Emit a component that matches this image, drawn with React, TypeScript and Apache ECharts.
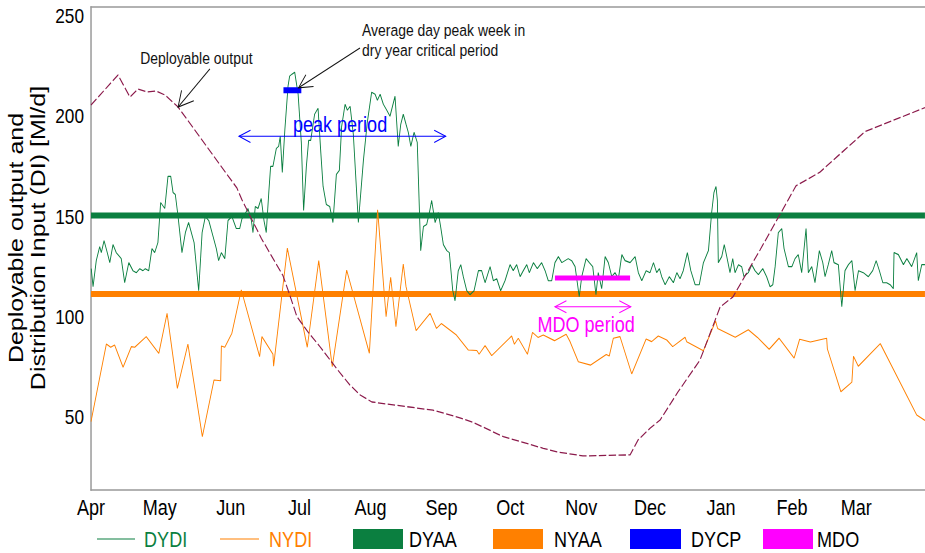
import React, { useEffect, useRef } from 'react';
import * as echarts from 'echarts';

const FONT = '"Liberation Sans", Arial, sans-serif';
// the reference picture is horizontally compressed; reproduce that look
const S = 0.82;
const W = 925 / S;
const H = 553;

const GREEN = '#0B7F40';
const ORANGE = '#FF8000';
const MAROON = '#8B1A4B';
const BLUE = '#0000FF';
const MAGENTA = '#FF00FF';

// x axis: day of the water year (0 = 1 Apr)
const monthNames = ['Apr', 'May', 'Jun', 'Jul', 'Aug', 'Sep', 'Oct', 'Nov', 'Dec', 'Jan', 'Feb', 'Mar'];
const monthStartDays = [0, 30, 61, 91, 122, 153, 183, 214, 244, 275, 306, 334];
const yTickValues = [50, 100, 150, 200, 250];

// DYDI - dry year distribution input (daily)
const dydiDays = [
  0.1, 0.9, 2.3, 3.8, 4.5, 5.7, 7.1, 8.2, 9.6, 11.0, 12.5, 13.2, 14.7, 16.5, 18.3, 19.8, 21.3, 22.7, 23.7, 25.2,
  26.6, 27.8, 29.2, 30.4, 32.2, 33.6, 34.8, 35.8, 36.8, 38.0, 39.7, 41.2, 42.6, 45.0, 47.0, 48.5, 49.9, 51.4, 53.3, 54.7,
  55.7, 56.9, 58.4, 59.8, 61.5, 63.4, 64.9, 65.9, 67.1, 68.5, 70.0, 70.7, 71.7, 72.9, 74.3, 75.5, 76.5, 77.6, 78.4, 79.4,
  80.9, 81.9, 82.6, 83.5, 84.6, 86.0, 86.7, 87.7, 88.9, 90.4, 91.8, 92.8, 94.0, 95.0, 95.9, 97.6, 99.1, 100.3, 101.3, 102.7,
  104.2, 105.6, 107.1, 108.4, 109.4, 110.9, 111.9, 113.1, 114.5, 116.7, 118.9, 120.6, 122.5, 124.0, 125.0, 126.2, 127.6, 129.1, 130.5, 132.7,
  134.1, 135.2, 136.3, 137.5, 138.5, 139.6, 141.0, 142.4, 143.9, 145.1, 146.5, 147.7, 148.7, 150.2, 151.6, 152.6, 153.8, 155.3, 156.4, 157.9,
  158.9, 160.3, 161.4, 162.5, 164.0, 165.4, 167.2, 169.1, 170.5, 172.0, 174.2, 175.6, 177.1, 178.8, 180.7, 182.9, 184.3, 185.8, 187.3, 188.7,
  190.2, 191.3, 193.1, 194.8, 196.7, 198.2, 199.6, 201.1, 202.5, 204.0, 205.5, 206.9, 208.3, 209.8, 211.3, 213.1, 214.2, 216.1, 217.5, 219.0,
  220.4, 221.4, 222.9, 224.4, 225.8, 227.3, 228.7, 230.2, 231.7, 233.1, 235.3, 237.5, 238.9, 240.4, 242.3, 244.0, 245.5, 246.9, 248.1, 249.1,
  250.6, 252.4, 254.2, 255.7, 257.1, 258.5, 260.3, 261.8, 263.7, 265.5, 267.3, 269.5, 270.9, 271.9, 272.8, 273.4, 273.8, 275.3, 276.4, 277.5,
  278.9, 280.1, 281.1, 282.6, 284.0, 285.0, 286.9, 288.4, 289.8, 291.3, 293.2, 294.9, 296.4, 297.6, 298.6, 300.0, 301.5, 302.5, 304.4, 305.9,
  307.3, 308.7, 310.2, 312.1, 313.1, 314.6, 316.0, 317.9, 319.4, 320.4, 321.8, 323.3, 324.3, 326.2, 327.7, 329.1, 330.6, 332.1, 333.5, 335.0,
  337.1, 339.3, 341.2, 342.7, 344.1, 345.6, 347.3, 348.8, 350.2, 350.5, 352.4, 354.6, 356.1, 358.2, 360.4, 361.1, 362.6, 364.0,
];
const dydiValues = [
  124, 115, 128, 135, 132, 138, 132, 127, 136, 132, 130, 129, 117, 127, 123, 122, 124, 123, 124, 123,
  134, 132, 137, 157, 154, 170, 170, 162, 161, 150, 132, 142, 147, 137, 113, 142, 150, 148, 140, 134,
  128, 132, 129, 148, 150, 144, 144, 149, 151, 154, 148, 142, 155, 154, 159, 148, 142, 162, 175, 175,
  184, 185, 190, 172, 193, 215, 220, 221, 222, 211, 187, 153, 175, 188, 188, 201, 204, 182, 165, 156,
  155, 147, 171, 173, 195, 206, 203, 205, 191, 147, 178, 197, 212, 211, 208, 211, 206, 203, 200, 210,
  185, 196, 201, 196, 192, 185, 192, 187, 133, 145, 146, 152, 158, 147, 152, 145, 136, 133, 132, 113,
  108, 123, 126, 120, 113, 111, 113, 123, 123, 117, 125, 118, 119, 113, 118, 126, 123, 126, 120, 123,
  126, 122, 127, 124, 127, 123, 118, 118, 127, 130, 127, 128, 129, 128, 125, 110, 120, 129, 127, 125,
  111, 122, 114, 130, 127, 120, 122, 119, 131, 128, 127, 130, 122, 118, 123, 122, 127, 122, 124, 120,
  116, 120, 117, 122, 119, 123, 132, 123, 116, 116, 127, 133, 152, 162, 165, 158, 127, 130, 136, 130,
  122, 129, 122, 126, 125, 120, 122, 126, 123, 121, 124, 120, 115, 116, 125, 142, 144, 134, 125, 125,
  129, 131, 122, 144, 122, 125, 117, 133, 127, 120, 126, 133, 127, 126, 105, 123, 126, 128, 113, 123,
  122, 120, 123, 128, 123, 117, 117, 116, 114, 132, 131, 126, 129, 125, 132, 118, 126, 126,
];

// NYDI - normal year distribution input (weekly)
const nydiDays = [
  0, 6.7, 8.6, 10.3, 14.0, 17.6, 19.1, 24.1, 29.6, 33.2, 37.7, 42.3, 48.6, 53.7, 56.6, 56.9, 58.4, 61.5, 65.6, 73.6,
  74.6, 79.4, 79.7, 85.7, 94.4, 99.4, 105.3, 111.6, 121.5, 125.1, 128.8, 130.8, 133.1, 136.3, 137.5, 141.9, 148.0, 150.8, 152.9, 159.5,
  164.7, 168.4, 169.4, 172.0, 174.9, 183.6, 184.8, 186.5, 190.5, 192.7, 195.1, 197.4, 202.3, 207.4, 209.1, 212.7, 218.1, 224.9, 226.2, 228.0,
  230.9, 236.0, 242.3, 244.7, 247.6, 251.3, 253.9, 259.3, 260.0, 267.3, 272.6, 273.5, 281.2, 286.9, 290.9, 296.0, 300.3, 306.9, 309.3, 314.0,
  321.1, 321.4, 327.3, 332.1, 332.8, 334.9, 344.5, 360.4, 364.0,
];
const nydiValues = [
  47.7, 86.4, 84.8, 85.9, 74.8, 85.1, 84.8, 90.1, 81.8, 101.7, 64.3, 86.4, 40.2, 68.5, 68.1, 85.4, 84.8, 91.8, 113.4, 80.1,
  90.1, 81.4, 75.4, 134.2, 84.8, 128.0, 75.1, 123.3, 81.8, 153.3, 100.0, 119.7, 95.0, 126.3, 115.0, 93.1, 101.7, 94.2, 96.6, 90.9,
  83.4, 83.2, 81.3, 85.6, 80.6, 90.4, 86.3, 89.3, 81.3, 92.2, 89.7, 90.9, 88.1, 91.3, 87.6, 77.6, 75.9, 81.2, 80.4, 89.3,
  90.1, 71.5, 88.9, 87.6, 90.4, 88.4, 85.1, 89.8, 87.6, 83.1, 97.9, 94.2, 89.8, 93.5, 89.7, 83.8, 89.3, 79.4, 88.8, 87.4,
  89.3, 84.0, 62.6, 67.4, 80.3, 75.3, 86.6, 51.0, 48.3,
];

// Deployable output
const deployDays = [
  0, 11.8, 17, 20.5, 24.4, 28.4, 32.3, 38, 63.7, 65.9, 74.4, 83.8, 86, 89.9, 95, 100, 104, 108, 113, 117.5,
  122.6, 149.3, 161, 166.8, 180, 197.4, 203.4, 214.7, 235.3, 238.8, 244, 248.4, 256.2, 265.8, 274.6, 280.2, 292, 304.3, 307.7, 318,
  337.8, 364,
];
const deployValues = [
  205.6, 220.6, 209.6, 213.6, 212.1, 212.6, 210.6, 204.6, 164.2, 158.3, 139, 120.5, 113.4, 100, 92, 85, 79, 73, 66, 61,
  57.5, 53.4, 49.6, 47.3, 40.2, 34.4, 32.6, 30.6, 31.1, 38.6, 44.4, 48.5, 62.5, 78.4, 104.9, 109.9, 133.3, 158.3, 165.3, 172,
  192.3, 204.3,
];

// Averages and periods
const dyaaValue = 150.5;
const nyaaValue = 111.4;
const dycpDays = [84, 91.8];
const dycpValue = 213;
const mdoDays = [202.5, 235.3];
const mdoValue = 119.3;
const peakPeriodDays = [64.6, 154.8];
const peakPeriodLevel = 190;
const mdoPeriodDays = [202.5, 235.6];
const mdoPeriodLevel = 105;

// annotation anchors in data coordinates [day, value]
const deployLabelAt = [46.0, 228.9];
const deployArrowFrom = [51.9, 223.6];
const deployArrowTo = [38, 204.6];
const peakWeekLabelAt = [118.3, 238.0];
const peakWeekArrowFrom = [117.4, 234.0];
const peakWeekArrowTo = [90.6, 214.2];
const peakLabelAt = [108.7, 196.2];
const mdoLabelAt = [216.1, 96.4];

const pairs = (xs: number[], ys: number[]) => xs.map((x, i) => [x, ys[i]]);

function arrowHead(tip: number[], from: number[], len: number, angDeg: number) {
  // computed in on-screen (compressed) space, then mapped back
  const t = [tip[0] * S, tip[1]];
  const f = [from[0] * S, from[1]];
  const dx = f[0] - t[0];
  const dy = f[1] - t[1];
  const L = Math.hypot(dx, dy) || 1;
  const ux = dx / L;
  const uy = dy / L;
  const a = (angDeg * Math.PI) / 180;
  const rot = (c: number, s: number) => [(t[0] + len * (ux * c - uy * s)) / S, t[1] + len * (ux * s + uy * c)];
  return [rot(Math.cos(a), Math.sin(a)), tip, rot(Math.cos(-a), Math.sin(-a))];
}

export default function App() {
  const ref = useRef<HTMLDivElement>(null);

  useEffect(() => {
    const el = ref.current;
    if (!el) return;
    document.body.style.overflow = 'hidden';
    const chart = echarts.init(el, undefined, { renderer: 'svg' });

    const legendBase = {
      orient: 'horizontal',
      top: 528,
      padding: 0,
      selectedMode: false,
      itemStyle: { borderWidth: 0 },
      textStyle: { fontSize: 22, fontFamily: FONT, color: '#000' },
    };

    const option: any = {
      animation: false,
      backgroundColor: '#fff',
      grid: { left: 91 / S, right: 0, top: 7, bottom: 63, containLabel: false, outerBoundsMode: 'none' },
      xAxis: [
        {
          type: 'value',
          min: 0,
          max: 364,
          axisLine: { show: true, onZero: false, lineStyle: { color: '#999', width: 1.5 } },
          axisTick: { show: false },
          splitLine: { show: false },
          axisLabel: {
            customValues: monthStartDays,
            formatter: (v: number) => {
              const i = monthStartDays.indexOf(Math.round(v));
              return i >= 0 ? monthNames[i] : '';
            },
            fontSize: 22,
            fontFamily: FONT,
            color: '#000',
            margin: 6,
          },
        },
        {
          type: 'value',
          position: 'top',
          min: 0,
          max: 364,
          axisLine: { show: true, onZero: false, lineStyle: { color: '#999', width: 1.5 } },
          axisTick: { show: false },
          splitLine: { show: false },
          axisLabel: { show: false },
        },
      ],
      yAxis: {
        type: 'value',
        min: 13.6,
        max: 254.5,
        axisLine: { show: true, onZero: false, lineStyle: { color: '#999', width: 1.8 } },
        axisTick: { show: false },
        splitLine: { show: false },
        axisLabel: {
          customValues: yTickValues,
          fontSize: 21,
          fontFamily: FONT,
          color: '#000',
          margin: 7 / S,
        },
      },
      legend: [
        { ...legendBase, left: 97 / S, itemWidth: 38 / S, itemHeight: 1.2, data: [{ name: 'DYDI', icon: 'rect', textStyle: { color: GREEN, padding: [0, 0, 0, 5 / S] } }] },
        { ...legendBase, left: 220 / S, itemWidth: 39 / S, itemHeight: 1.2, data: [{ name: 'NYDI', icon: 'rect', textStyle: { color: ORANGE, padding: [0, 0, 0, 6 / S] } }] },
        { ...legendBase, left: 353 / S, itemWidth: 50 / S, itemHeight: 20, data: [{ name: 'DYAA', icon: 'rect', textStyle: { padding: [0, 0, 0, 2 / S] } }] },
        { ...legendBase, left: 493 / S, itemWidth: 50 / S, itemHeight: 20, data: [{ name: 'NYAA', icon: 'rect', textStyle: { padding: [0, 0, 0, 7 / S] } }] },
        { ...legendBase, left: 630 / S, itemWidth: 51 / S, itemHeight: 20, data: [{ name: 'DYCP', icon: 'rect', textStyle: { padding: [0, 0, 0, 6 / S] } }] },
        { ...legendBase, left: 763 / S, itemWidth: 50 / S, itemHeight: 20, data: [{ name: 'MDO', icon: 'rect' }] },
      ],
      series: [
        {
          name: 'DYAA', type: 'line', symbol: 'none', z: 2,
          data: [[0, dyaaValue], [364, dyaaValue]],
          lineStyle: { color: GREEN, width: 6 }, itemStyle: { color: GREEN },
        },
        {
          name: 'NYAA', type: 'line', symbol: 'none', z: 2,
          data: [[0, nyaaValue], [364, nyaaValue]],
          lineStyle: { color: ORANGE, width: 6 }, itemStyle: { color: ORANGE },
        },
        {
          name: 'DYDI', type: 'line', symbol: 'none', z: 3,
          data: pairs(dydiDays, dydiValues),
          lineStyle: { color: GREEN, width: 1.1 }, itemStyle: { color: GREEN },
        },
        {
          name: 'NYDI', type: 'line', symbol: 'none', z: 3,
          data: pairs(nydiDays, nydiValues),
          lineStyle: { color: ORANGE, width: 1.1 }, itemStyle: { color: ORANGE },
        },
        {
          name: 'Deployable output', type: 'line', symbol: 'none', z: 3,
          data: pairs(deployDays, deployValues),
          lineStyle: { color: MAROON, width: 1.3, type: [9, 3] }, itemStyle: { color: MAROON },
        },
        {
          name: 'DYCP', type: 'line', symbol: 'none', z: 4,
          data: pairs(dycpDays, [dycpValue, dycpValue]),
          lineStyle: { color: BLUE, width: 6 }, itemStyle: { color: BLUE },
        },
        {
          name: 'MDO', type: 'line', symbol: 'none', z: 4,
          data: pairs(mdoDays, [mdoValue, mdoValue]),
          lineStyle: { color: MAGENTA, width: 5 }, itemStyle: { color: MAGENTA },
        },
      ],
    };

    chart.setOption(option);

    const px = (p: number[]) => chart.convertToPixel({ xAxisIndex: 0, yAxisIndex: 0 }, p) as number[];

    const graphics: any[] = [];
    const addArrow = (from: number[], to: number[], color: string, headLen: number, both: boolean) => {
      const a = px(from);
      const b = px(to);
      graphics.push({ type: 'line', shape: { x1: a[0], y1: a[1], x2: b[0], y2: b[1] }, style: { stroke: color, lineWidth: 1.1 }, z: 100 });
      graphics.push({ type: 'polyline', shape: { points: arrowHead(b, a, headLen, 28) }, style: { stroke: color, fill: null, lineWidth: 1.1 }, z: 100 });
      if (both) {
        graphics.push({ type: 'polyline', shape: { points: arrowHead(a, b, headLen, 28) }, style: { stroke: color, fill: null, lineWidth: 1.1 }, z: 100 });
      }
    };

    addArrow(deployArrowFrom, deployArrowTo, '#111', 17, false);
    addArrow(peakWeekArrowFrom, peakWeekArrowTo, '#111', 15, false);
    addArrow([peakPeriodDays[0], peakPeriodLevel], [peakPeriodDays[1], peakPeriodLevel], BLUE, 13, true);
    addArrow([mdoPeriodDays[0], mdoPeriodLevel], [mdoPeriodDays[1], mdoPeriodLevel], MAGENTA, 13, true);

    const t1 = px(deployLabelAt);
    graphics.push({ type: 'text', x: t1[0], y: t1[1], z: 100, style: { text: 'Deployable output', fontSize: 17, fontFamily: FONT, fill: '#111', align: 'center', verticalAlign: 'middle' } });
    const t2 = px(peakWeekLabelAt);
    graphics.push({ type: 'text', x: t2[0], y: t2[1], z: 100, style: { text: 'Average day peak week in\ndry year critical period', fontSize: 17, lineHeight: 20, fontFamily: FONT, fill: '#111', align: 'left', verticalAlign: 'middle' } });
    const t3 = px(peakLabelAt);
    graphics.push({ type: 'text', x: t3[0], y: t3[1], z: 100, style: { text: 'peak period', fontSize: 22, fontFamily: FONT, fill: BLUE, align: 'center', verticalAlign: 'middle' } });
    const t4 = px(mdoLabelAt);
    graphics.push({ type: 'text', x: t4[0], y: t4[1], z: 100, style: { text: 'MDO period', fontSize: 22, fontFamily: FONT, fill: MAGENTA, align: 'center', verticalAlign: 'middle' } });

    graphics.push({
      type: 'text', x: 27 / S, y: 238, rotation: Math.PI / 2, z: 100,
      style: {
        text: 'Deployable output and\nDistribution Input (DI) [Ml/d]',
        fontSize: 25, lineHeight: 27, fontFamily: FONT, fill: '#000', align: 'center', verticalAlign: 'middle',
      },
    });

    chart.setOption({ graphic: graphics });

    return () => {
      chart.dispose();
    };
  }, []);

  return (
    <div
      ref={ref}
      style={{ position: 'fixed', left: 0, top: 0, width: W, height: H, transform: `scaleX(${S})`, transformOrigin: '0 0' }}
    />
  );
}
